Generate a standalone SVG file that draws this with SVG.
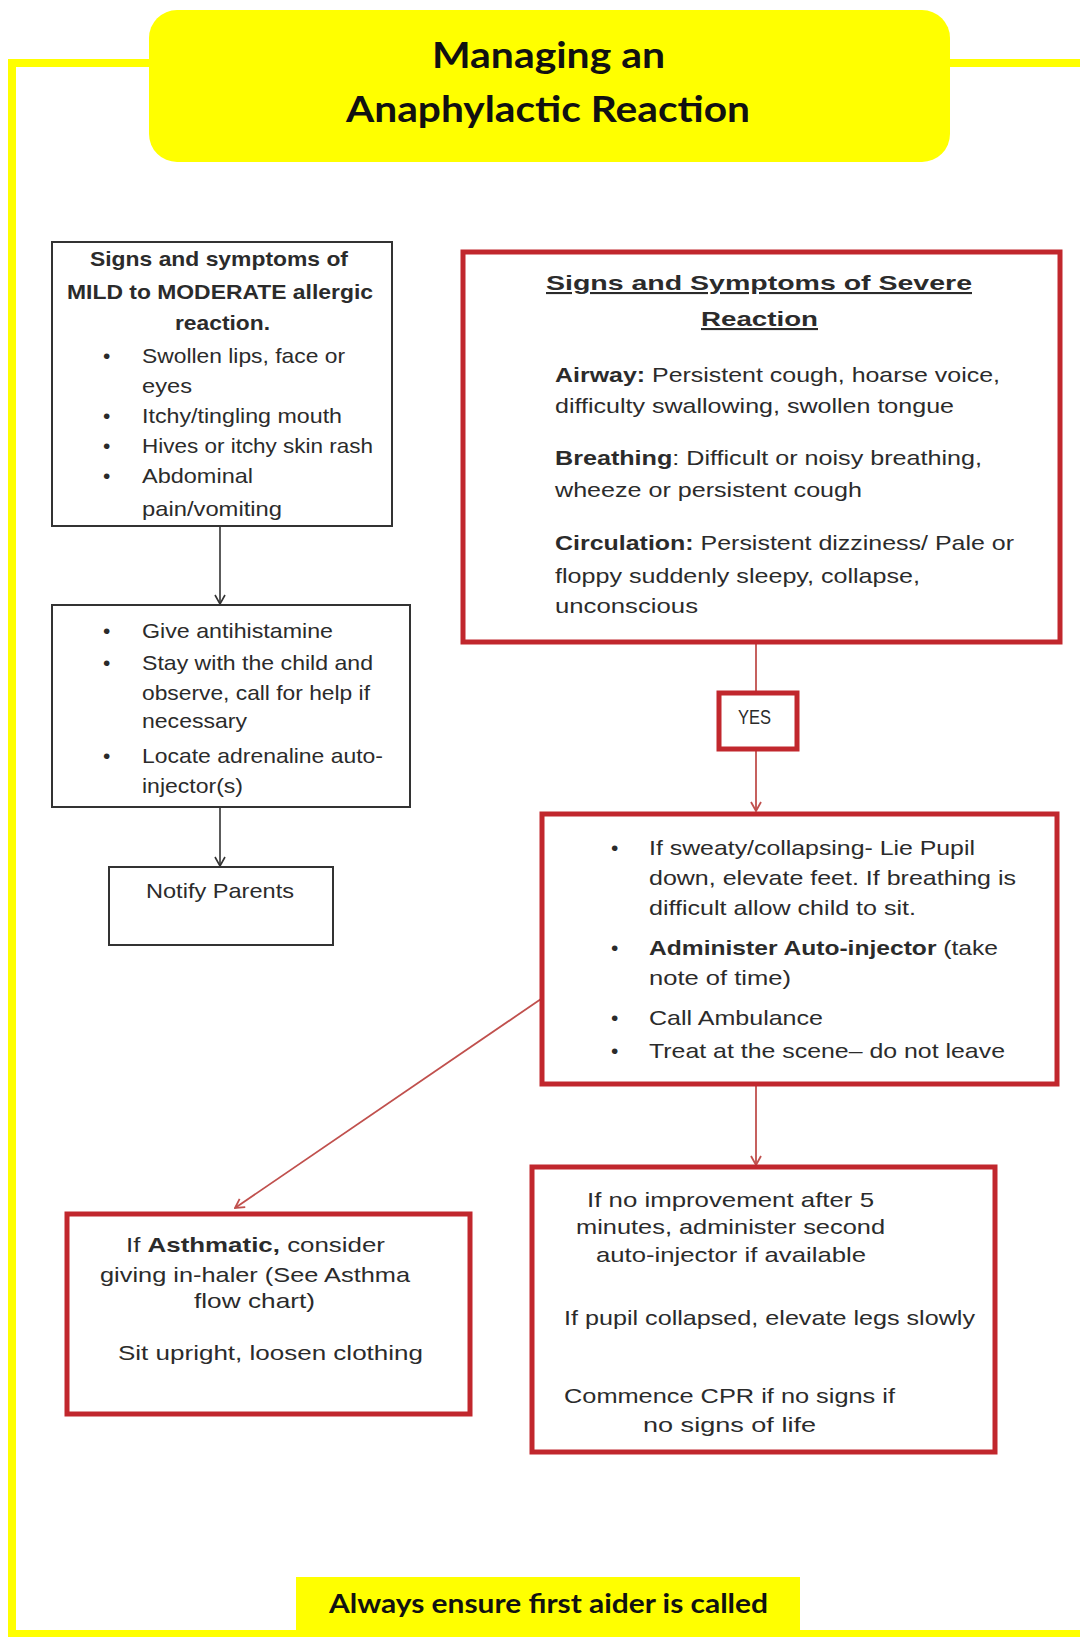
<svg xmlns="http://www.w3.org/2000/svg" width="1080" height="1637" viewBox="0 0 1080 1637">
<style>
.t{font-family:"Liberation Sans",Arial,sans-serif;fill:#2b2b2b;font-size:21px}
.b{font-weight:bold}
.h{font-family:Lato,"Open Sans",sans-serif;font-weight:bold;fill:#111}
.bx{fill:#fff;stroke:#333;stroke-width:2}
.rb{fill:#fff;stroke:#c1272d;stroke-width:5}
.cb{fill:none;stroke:#333;stroke-width:1.6}
.cr{fill:none;stroke:#c0504d;stroke-width:1.8}
</style>
<defs>
<marker id="ak" viewBox="0 0 12 12" refX="11" refY="6" markerWidth="12" markerHeight="12" markerUnits="userSpaceOnUse" orient="auto">
<path d="M2,1 L11,6 L2,11" fill="none" stroke="#333" stroke-width="1.6"/>
</marker>
<marker id="ar" viewBox="0 0 12 12" refX="11" refY="6" markerWidth="12" markerHeight="12" markerUnits="userSpaceOnUse" orient="auto">
<path d="M2,1 L11,6 L2,11" fill="none" stroke="#c0504d" stroke-width="1.8"/>
</marker>
<clipPath id="c1"><rect x="52" y="242" width="340" height="283"/></clipPath>
</defs>

<g id="frame">
<polyline points="1085,63 12,63 12,1634 1085,1634" fill="none" stroke="#ffff00" stroke-width="8"/>
</g>

<g id="title">
<rect x="149" y="10" width="801" height="152" rx="28" fill="#ffff00"/>
<text class="h" x="432" y="68" font-size="36" textLength="233" lengthAdjust="spacingAndGlyphs">Managing an</text>
<text class="h" x="346" y="122" font-size="36" textLength="404" lengthAdjust="spacingAndGlyphs">Anaphylactic Reaction</text>
</g>

<g id="connectors">
<line class="cb" x1="220" y1="526" x2="220" y2="604" marker-end="url(#ak)"/>
<line class="cb" x1="220" y1="807" x2="220" y2="866" marker-end="url(#ak)"/>
<line class="cr" x1="756" y1="643" x2="756" y2="692"/>
<line class="cr" x1="756" y1="750" x2="756" y2="811" marker-end="url(#ar)"/>
<line class="cr" x1="756" y1="1085" x2="756" y2="1165" marker-end="url(#ar)"/>
<line class="cr" x1="541" y1="999" x2="235" y2="1208" marker-end="url(#ar)"/>
</g>

<g id="mild">
<rect class="bx" x="52" y="242" width="340" height="284"/>
<text class="t b" x="90" y="266" font-size="20" textLength="258" lengthAdjust="spacingAndGlyphs">Signs and symptoms of</text>
<text class="t b" x="67" y="299" font-size="20" textLength="306" lengthAdjust="spacingAndGlyphs">MILD to MODERATE allergic</text>
<text class="t b" x="175" y="330" font-size="20" textLength="95" lengthAdjust="spacingAndGlyphs">reaction.</text>
<g clip-path="url(#c1)">
<text class="t" x="103" y="363">•</text>
<text class="t" x="142" y="363" textLength="203" lengthAdjust="spacingAndGlyphs">Swollen lips, face or</text>
<text class="t" x="142" y="393" textLength="50" lengthAdjust="spacingAndGlyphs">eyes</text>
<text class="t" x="103" y="423">•</text>
<text class="t" x="142" y="423" textLength="200" lengthAdjust="spacingAndGlyphs">Itchy/tingling mouth</text>
<text class="t" x="103" y="453">•</text>
<text class="t" x="142" y="453" textLength="231" lengthAdjust="spacingAndGlyphs">Hives or itchy skin rash</text>
<text class="t" x="103" y="483">•</text>
<text class="t" x="142" y="483" textLength="111" lengthAdjust="spacingAndGlyphs">Abdominal</text>
<text class="t" x="142" y="516" textLength="140" lengthAdjust="spacingAndGlyphs">pain/vomiting</text>
</g>
</g>

<g id="firstaid">
<rect class="bx" x="52" y="605" width="358" height="202"/>
<text class="t" x="103" y="638">•</text>
<text class="t" x="142" y="638" textLength="191" lengthAdjust="spacingAndGlyphs">Give antihistamine</text>
<text class="t" x="103" y="670">•</text>
<text class="t" x="142" y="670" textLength="231" lengthAdjust="spacingAndGlyphs">Stay with the child and</text>
<text class="t" x="142" y="700" textLength="228" lengthAdjust="spacingAndGlyphs">observe, call for help if</text>
<text class="t" x="142" y="728" textLength="105" lengthAdjust="spacingAndGlyphs">necessary</text>
<text class="t" x="103" y="763">•</text>
<text class="t" x="142" y="763" textLength="241" lengthAdjust="spacingAndGlyphs">Locate adrenaline auto-</text>
<text class="t" x="142" y="793" textLength="101" lengthAdjust="spacingAndGlyphs">injector(s)</text>
</g>

<g id="notify">
<rect class="bx" x="109" y="867" width="224" height="78"/>
<text class="t" x="146" y="898" textLength="148" lengthAdjust="spacingAndGlyphs">Notify Parents</text>
</g>

<g id="severe">
<rect class="rb" x="463" y="252" width="597" height="390"/>
<text class="t b" x="546" y="290" font-size="26" text-decoration="underline" textLength="426" lengthAdjust="spacingAndGlyphs">Signs and Symptoms of Severe</text>
<text class="t b" x="701" y="326" font-size="26" text-decoration="underline" textLength="117" lengthAdjust="spacingAndGlyphs">Reaction</text>
<text class="t" x="555" y="382" font-size="22" textLength="445" lengthAdjust="spacingAndGlyphs"><tspan class="b">Airway:</tspan> Persistent cough, hoarse voice,</text>
<text class="t" x="555" y="413" font-size="22" textLength="399" lengthAdjust="spacingAndGlyphs">difficulty swallowing, swollen tongue</text>
<text class="t" x="555" y="465" font-size="22" textLength="427" lengthAdjust="spacingAndGlyphs"><tspan class="b">Breathing</tspan>: Difficult or noisy breathing,</text>
<text class="t" x="555" y="497" font-size="22" textLength="307" lengthAdjust="spacingAndGlyphs">wheeze  or persistent cough</text>
<text class="t" x="555" y="550" font-size="22" textLength="459" lengthAdjust="spacingAndGlyphs"><tspan class="b">Circulation:</tspan> Persistent dizziness/ Pale or</text>
<text class="t" x="555" y="583" font-size="22" textLength="365" lengthAdjust="spacingAndGlyphs">floppy suddenly sleepy, collapse,</text>
<text class="t" x="555" y="613" font-size="22" textLength="143" lengthAdjust="spacingAndGlyphs">unconscious</text>
</g>

<g id="yes">
<rect class="rb" x="719" y="693" width="78" height="56"/>
<text class="t" x="738" y="724" font-size="15" textLength="33" lengthAdjust="spacingAndGlyphs">YES</text>
</g>

<g id="actions">
<rect class="rb" x="542" y="814" width="515" height="270"/>
<text class="t" x="611" y="855" font-size="22">•</text>
<text class="t" x="649" y="855" font-size="22" textLength="326" lengthAdjust="spacingAndGlyphs">If sweaty/collapsing- Lie Pupil</text>
<text class="t" x="649" y="885" font-size="22" textLength="367" lengthAdjust="spacingAndGlyphs">down, elevate feet. If breathing is</text>
<text class="t" x="649" y="915" font-size="22" textLength="267" lengthAdjust="spacingAndGlyphs">difficult allow child to sit.</text>
<text class="t" x="611" y="955" font-size="22">•</text>
<text class="t" x="649" y="955" font-size="22" textLength="349" lengthAdjust="spacingAndGlyphs"><tspan class="b">Administer Auto-injector</tspan> (take</text>
<text class="t" x="649" y="985" font-size="22" textLength="142" lengthAdjust="spacingAndGlyphs">note of time)</text>
<text class="t" x="611" y="1025" font-size="22">•</text>
<text class="t" x="649" y="1025" font-size="22" textLength="174" lengthAdjust="spacingAndGlyphs">Call Ambulance</text>
<text class="t" x="611" y="1058" font-size="22">•</text>
<text class="t" x="649" y="1058" font-size="22" textLength="356" lengthAdjust="spacingAndGlyphs">Treat  at the scene– do not leave</text>
</g>

<g id="asthma">
<rect class="rb" x="67" y="1214" width="403" height="200"/>
<text class="t" x="126" y="1252" font-size="22" textLength="259" lengthAdjust="spacingAndGlyphs">If <tspan class="b">Asthmatic,</tspan> consider</text>
<text class="t" x="100" y="1282" font-size="22" textLength="310" lengthAdjust="spacingAndGlyphs">giving in-haler (See Asthma</text>
<text class="t" x="194" y="1308" font-size="22" textLength="121" lengthAdjust="spacingAndGlyphs">flow chart)</text>
<text class="t" x="118" y="1360" font-size="22" textLength="305" lengthAdjust="spacingAndGlyphs">Sit upright, loosen clothing</text>
</g>

<g id="noimprove">
<rect class="rb" x="532" y="1167" width="463" height="285"/>
<text class="t" x="587" y="1207" font-size="22" textLength="287" lengthAdjust="spacingAndGlyphs">If no improvement after 5</text>
<text class="t" x="576" y="1234" font-size="22" textLength="309" lengthAdjust="spacingAndGlyphs">minutes, administer second</text>
<text class="t" x="596" y="1262" font-size="22" textLength="270" lengthAdjust="spacingAndGlyphs">auto-injector if available</text>
<text class="t" x="564" y="1325" font-size="22" textLength="411" lengthAdjust="spacingAndGlyphs">If pupil collapsed, elevate legs slowly</text>
<text class="t" x="564" y="1403" font-size="22" textLength="331" lengthAdjust="spacingAndGlyphs">Commence CPR if no signs if</text>
<text class="t" x="643" y="1432" font-size="22" textLength="173" lengthAdjust="spacingAndGlyphs">no signs of life</text>
</g>

<g id="footer">
<rect x="296" y="1577" width="504" height="56" fill="#ffff00"/>
<text class="h" x="329" y="1613" font-size="26" textLength="439" lengthAdjust="spacingAndGlyphs">Always ensure first aider is called</text>
</g>
</svg>
